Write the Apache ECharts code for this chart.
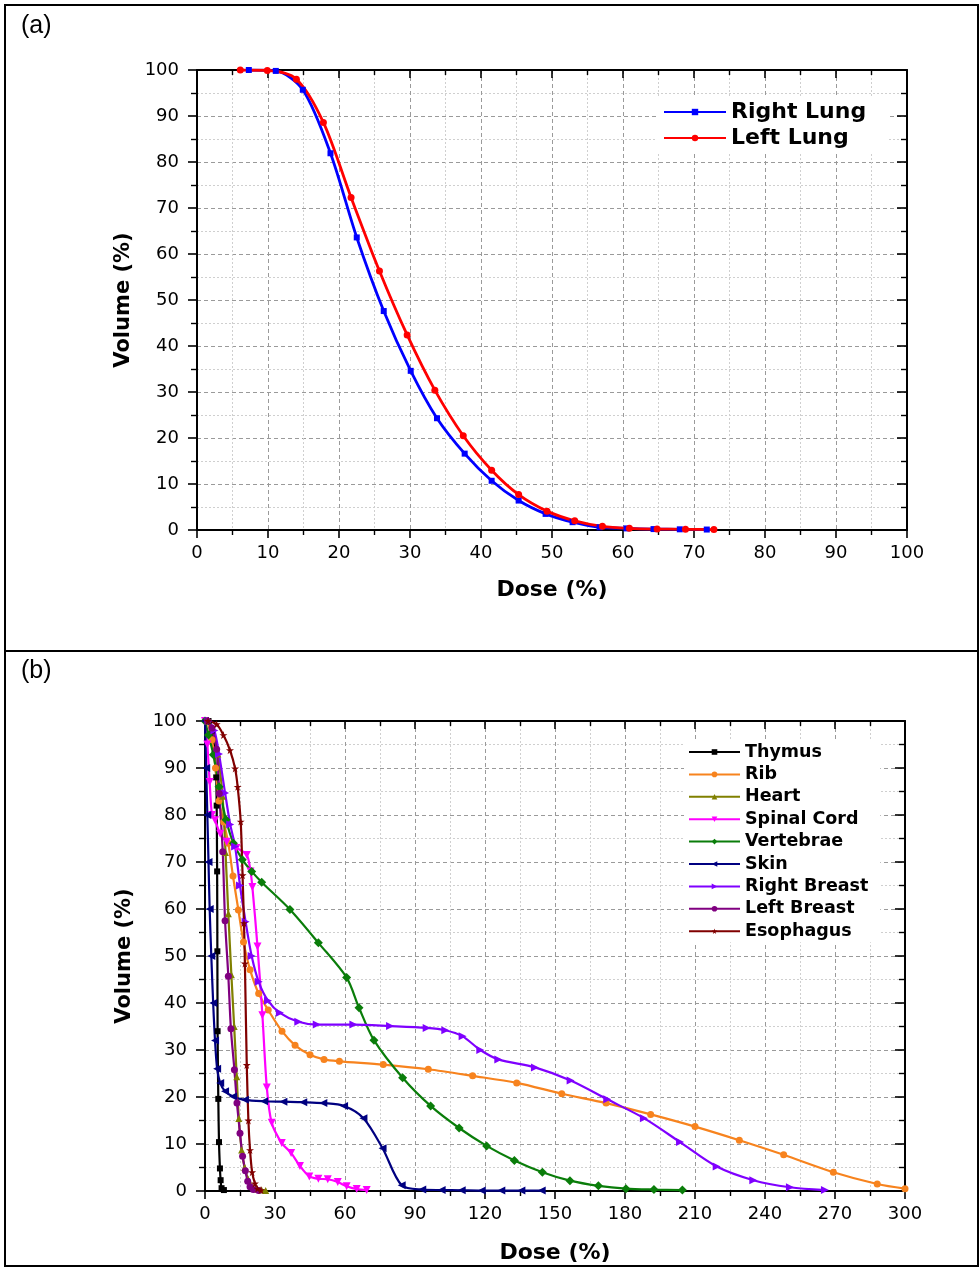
<!DOCTYPE html>
<html><head><meta charset="utf-8">
<script src="https://cdn.jsdelivr.net/npm/echarts@6/dist/echarts.min.js"></script>
<style>html,body{margin:0;padding:0;background:#fff}#c{width:980px;height:1268px}</style>
</head><body><div id="c"></div>
<script>
// ---------- Panel (a) data: [dose %, volume %] ----------
const rightLung = [[7.3,100],[11.1,99.8],[14.9,95.7],[18.8,81.9],[22.5,63.6],[26.3,47.6],[30.1,34.6],[33.8,24.3],[37.7,16.6],[41.5,10.7],[45.3,6.4],[49.1,3.5],[52.9,1.7],[56.7,0.6],[60.5,0.35],[64.3,0.2],[68.0,0.15],[71.8,0.1]];
const leftLung = [[6.1,100],[9.9,99.9],[14.0,98.0],[17.8,88.6],[21.7,72.3],[25.7,56.3],[29.6,42.4],[33.5,30.4],[37.5,20.5],[41.5,13.0],[45.3,7.7],[49.3,4.1],[53.2,2.0],[57.1,0.8],[60.9,0.36],[64.8,0.2],[68.8,0.15],[72.8,0.1]];

// ---------- Panel (b) data ----------
const thymus = [[1.5,100],[3,98],[4.2,93],[4.8,88],[5.0,82],[5.2,68],[5.3,51],[5.4,34],[5.7,19.6],[6.0,10.4],[6.4,4.8],[6.7,2.3],[7.1,0.6],[8.1,0.2]];
const rib = [[1,100],[3,96],[4.5,90],[6,83],[8,78.5],[10,74],[12,67],[14.3,59.8],[16.5,53],[19.3,47.1],[23,42],[27.1,38.5],[33,34],[38.6,31.0],[45,29],[51,28],[57.6,27.6],[76.4,26.9],[95.7,25.9],[114.7,24.5],[133.6,23.0],[152.9,20.7],[171.9,18.7],[191,16.3],[210,13.7],[229,10.8],[248,7.7],[269.3,4.0],[288.1,1.5],[300,0.5]];
const heart = [[1,100],[3,98.5],[5.5,93],[7.5,84],[8.8,72],[10,59],[11.3,46],[12.5,35],[13.6,24.3],[14.5,15.4],[15.7,8.7],[17,5],[18.5,2.5],[20,1.0],[22,0.4],[24.3,0.2],[26,0.1]];
const spinalCord = [[0,100],[1,95],[2,87],[3,80],[4.3,78.9],[6.5,76],[9.3,74.3],[13.5,73],[17.9,71.5],[19.5,68],[20.3,64.7],[22.5,52],[24.6,37.4],[26.5,22],[28.6,14.5],[32.9,10.2],[36.9,8.1],[40.7,5.3],[44.7,3.1],[48.6,2.6],[52.6,2.5],[56.9,1.9],[60.7,1.0],[65,0.4],[69.3,0.2]];
const vertebrae = [[0,100],[1.5,97],[3.6,92.8],[6,86],[9,79],[12.2,74],[16,70.5],[20,68],[24.3,65.7],[36.4,59.9],[48.6,52.8],[60.7,45.4],[66,39],[72.4,32.1],[84.7,24.1],[96.7,18.1],[108.9,13.4],[120.7,9.6],[132.6,6.5],[144.6,4.0],[156.4,2.2],[168.6,1.1],[180.4,0.5],[192.4,0.3],[204.6,0.2]];
const skin = [[0,100],[0.5,90],[1,80],[1.5,70],[2,60],[2.7,50],[3.5,40],[4.3,32],[5.2,26],[6.5,23],[8.6,21.2],[12,20.1],[17.1,19.4],[25.3,19.1],[33.6,19.0],[42.1,18.9],[50.7,18.7],[59.6,18.1],[67.9,15.5],[76.1,9.1],[84.3,1.2],[93.1,0.3],[101.4,0.2],[110,0.15],[118.6,0.1],[127,0.1],[135.6,0.1],[144.3,0.1]];
const rightBreast = [[1.5,100],[4,98],[6,93],[8.6,84.7],[10.8,78],[12.9,73.3],[15,65],[17.4,57.3],[20,50],[23,44.5],[27,40.5],[32.1,37.9],[40,36],[47.9,35.4],[63.6,35.4],[79.3,35.1],[95,34.7],[103,34.2],[110.4,32.9],[118,30],[125.7,28],[141.4,26.3],[156.7,23.5],[172.4,19.5],[188.1,15.5],[203.6,10.4],[219.3,5.2],[235,2.3],[250.7,0.8],[265.7,0.2]];
const leftBreast = [[1,100],[3,98.5],[5.0,94],[6.1,84.6],[7.6,72.2],[8.6,57.5],[10.0,45.7],[11.1,34.5],[12.6,25.8],[13.7,18.7],[15.0,12.3],[16.1,7.4],[17.3,4.3],[18.3,2.1],[19.3,0.9],[20.7,0.3],[23,0.1]];
const esophagus = [[1.3,100],[5,99.3],[7.9,97],[10.7,93.8],[12.9,89.9],[14,86],[15.3,78.6],[16.1,67.2],[16.7,57],[17.1,48.4],[17.9,26.8],[18.6,15],[19.3,8.7],[20.2,4],[21.4,1.6],[22.5,0.5],[24,0.2]];

const xTicksA = {min:0, max:100, interval:10};
const yTicks = {min:0, max:100, interval:10};
const xTicksB = {min:0, max:300, interval:30};

const FONT = 'DejaVu Sans';
const STAR = 'path://M50,0 L61,35 L98,35 L68,57 L79,91 L50,70 L21,91 L32,57 L2,35 L39,35 Z';

function mainX(grid, t, name, gap){
  return {gridIndex:grid, type:'value', min:t.min, max:t.max, interval:t.interval, position:'bottom',
    name:name, nameLocation:'middle', nameGap:gap,
    nameTextStyle:{fontFamily:FONT, fontWeight:'bold', fontSize:22, color:'#000'},
    axisLine:{show:true, onZero:false, lineStyle:{color:'#000', width:2}},
    axisTick:{show:true, inside:false, length:8, lineStyle:{color:'#000', width:1.6}},
    minorTick:{show:true, splitNumber:2, length:5, lineStyle:{color:'#000', width:1.4}},
    axisLabel:{fontFamily:FONT, fontSize:18, color:'#000', margin:14},
    splitLine:{show:true, lineStyle:{color:'#9a9a9a', type:[4,3], width:1}},
    minorSplitLine:{show:true, lineStyle:{color:'#cfcfcf', type:[2,2], width:1}}};
}
function topX(grid, t){
  return {gridIndex:grid, type:'value', min:t.min, max:t.max, interval:t.interval, position:'top',
    axisLine:{show:true, onZero:false, lineStyle:{color:'#000', width:2}},
    axisTick:{show:true, inside:true, length:8, lineStyle:{color:'#000', width:1.6}},
    minorTick:{show:true, splitNumber:2, length:5, lineStyle:{color:'#000', width:1.4}},
    axisLabel:{show:false}, splitLine:{show:false}};
}
function mainY(grid, name, gap){
  return {gridIndex:grid, type:'value', min:yTicks.min, max:yTicks.max, interval:yTicks.interval, position:'left',
    name:name, nameLocation:'middle', nameGap:gap, nameRotate:90,
    nameTextStyle:{fontFamily:FONT, fontWeight:'bold', fontSize:21, color:'#000'},
    axisLine:{show:true, onZero:false, lineStyle:{color:'#000', width:2}},
    axisTick:{show:true, inside:false, length:9, lineStyle:{color:'#000', width:1.6}},
    minorTick:{show:true, splitNumber:2, length:6, lineStyle:{color:'#000', width:1.4}},
    axisLabel:{fontFamily:FONT, fontSize:18, color:'#000', margin:18},
    splitLine:{show:true, lineStyle:{color:'#9a9a9a', type:[4,3], width:1}},
    minorSplitLine:{show:true, lineStyle:{color:'#cfcfcf', type:[2,2], width:1}}};
}
function rightY(grid){
  return {gridIndex:grid, type:'value', min:yTicks.min, max:yTicks.max, interval:yTicks.interval, position:'right',
    axisLine:{show:true, onZero:false, lineStyle:{color:'#000', width:2}},
    axisTick:{show:true, inside:true, length:10, lineStyle:{color:'#000', width:1.6}},
    minorTick:{show:true, splitNumber:2, length:6, lineStyle:{color:'#000', width:1.4}},
    axisLabel:{show:false}, splitLine:{show:false}};
}
function ser(name, data, color, symbol, grid, size, width, rot){
  return {name:name, type:'line', data:data, xAxisIndex:grid*2, yAxisIndex:grid*2,
    smooth:0.3, symbol:symbol, symbolSize:size, symbolRotate:rot||0, showAllSymbol:true,
    lineStyle:{color:color, width:width}, itemStyle:{color:color, borderWidth:0},
    emphasis:{disabled:true}, z:3, animation:false};
}

const chart = echarts.init(document.getElementById('c'), null, {renderer:'canvas'});
chart.setOption({
  animation:false,
  backgroundColor:'#fff',
  grid:[
    {left:197, top:70, width:710, height:460, containLabel:false},
    {left:205, top:721, width:700, height:470, containLabel:false}
  ],
  xAxis:[mainX(0,xTicksA,'Dose (%)',49), topX(0,xTicksA), mainX(1,xTicksB,'Dose (%)',51), topX(1,xTicksB)],
  yAxis:[mainY(0,'Volume (%)',63), rightY(0), mainY(1,'Volume (%)',70), rightY(1)],
  legend:[
    {data:['Right Lung','Left Lung'], orient:'vertical', left:657, top:98, itemWidth:62, itemHeight:8, itemGap:2,
     padding:[2,22,3,6], backgroundColor:'#fff',
     textStyle:{fontFamily:FONT, fontWeight:'bold', fontSize:22, color:'#000', lineHeight:24}},
    {data:['Thymus','Rib','Heart','Spinal Cord','Vertebrae','Skin','Right Breast','Left Breast','Esophagus'],
     orient:'vertical', left:684, top:741, itemWidth:51, itemHeight:7, itemGap:2.4,
     padding:[1,12,1,4], backgroundColor:'#fff',
     textStyle:{fontFamily:FONT, fontWeight:'bold', fontSize:17.5, color:'#000', lineHeight:20}}
  ],
  series:[
    ser('Right Lung', rightLung, '#0000ff', 'rect', 0, 6, 2.8),
    ser('Left Lung', leftLung, '#ff0000', 'circle', 0, 7, 2.8),
    ser('Thymus', thymus, '#000000', 'rect', 1, 6, 2.2),
    ser('Rib', rib, '#f7831e', 'circle', 1, 7, 2.2),
    ser('Heart', heart, '#808000', 'triangle', 1, 7, 2.2),
    ser('Spinal Cord', spinalCord, '#ff00ff', 'triangle', 1, 8, 2.2, 180),
    ser('Vertebrae', vertebrae, '#0a7d0a', 'diamond', 1, 9, 2.2),
    ser('Skin', skin, '#000080', 'triangle', 1, 8, 2.2, 90),
    ser('Right Breast', rightBreast, '#7f00ff', 'triangle', 1, 8, 2.2, -90),
    ser('Left Breast', leftBreast, '#800080', 'circle', 1, 7, 2.2),
    ser('Esophagus', esophagus, '#800000', STAR, 1, 8, 2.2)
  ],
  graphic:[
    {type:'rect', shape:{x:5, y:5, width:973, height:1261}, style:{fill:'none', stroke:'#000', lineWidth:2}, silent:true},
    {type:'line', shape:{x1:5, y1:651, x2:978, y2:651}, style:{stroke:'#000', lineWidth:2}, silent:true},
    {type:'text', left:21, top:14, style:{text:'(a)', font:'25px "Liberation Sans"', fill:'#000'}},
    {type:'text', left:21, top:659, style:{text:'(b)', font:'25px "Liberation Sans"', fill:'#000'}}
  ]
});
</script></body></html>
